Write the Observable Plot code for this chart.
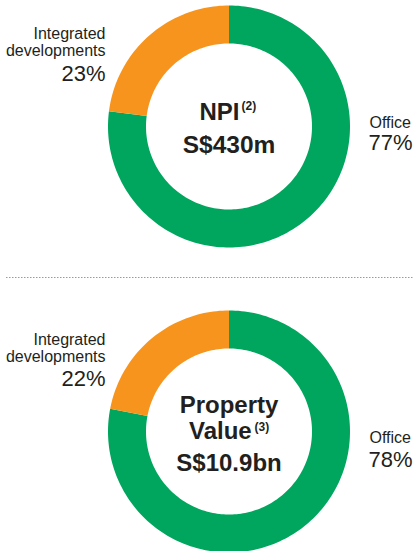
<!DOCTYPE html>
<html>
<head>
<meta charset="utf-8">
<script src="https://cdn.jsdelivr.net/npm/d3@7"></script>
<script src="https://cdn.jsdelivr.net/npm/@observablehq/plot@0.6"></script>
<style>
  html, body { margin: 0; padding: 0; background: #fff; }
  #chart svg { display: block; }
</style>
</head>
<body>
<div id="chart"></div>
<script>
// ---- data ----
const categories = ["Office", "Integrated developments"];
const categoryLines = [["Office"], ["Integrated", "developments"]];
const npiShares = [77, 23];
const valueShares = [78, 22];
const npiTitle = ["NPI", "(2)", "S$430m"];
const valueTitle = ["Property", "Value", "(3)", "S$10.9bn"];
const colors = ["#00a65d", "#f7941d"];

// ---- layout ----
const W = 415, H = 551;
const cx = 228.5, R = 121, r = 83;
const charts = [
  { id: "npi", shares: npiShares, cy: 126 },
  { id: "pv", shares: valueShares, cy: 431 }
];

// build ring polygons from shares
const ringPts = [];
charts.forEach(ch => {
  const arcs = d3.pie().sort(null).value(d => d)(ch.shares);
  arcs.forEach((a, i) => {
    const key = ch.id + "-" + i;
    const n = Math.max(8, Math.ceil((a.endAngle - a.startAngle) / (Math.PI * 2) * 240));
    const pts = [];
    for (let k = 0; k <= n; k++) {
      const t = a.startAngle + (a.endAngle - a.startAngle) * k / n;
      pts.push([cx + R * Math.sin(t), ch.cy - R * Math.cos(t)]);
    }
    for (let k = n; k >= 0; k--) {
      const t = a.startAngle + (a.endAngle - a.startAngle) * k / n;
      pts.push([cx + r * Math.sin(t), ch.cy - r * Math.cos(t)]);
    }
    pts.push(pts[0]);
    pts.forEach(p => ringPts.push({ key, cat: categories[i], x: p[0], y: p[1] }));
  });
});

// labels
const labelRows = [];
const pushSide = (ch, yOff) => {
  labelRows.push({ x: 105, y: ch.cy + yOff[0], text: categoryLines[1][0], size: 16, anchor: "end" });
  labelRows.push({ x: 105, y: ch.cy + yOff[1], text: categoryLines[1][1], size: 16, anchor: "end" });
  labelRows.push({ x: 105, y: ch.cy + yOff[2], text: ch.shares[1] + "%", size: 22, anchor: "end" });
  labelRows.push({ x: 369, y: ch.cy + yOff[3], text: categoryLines[0][0], size: 16, anchor: "start" });
  labelRows.push({ x: 368, y: ch.cy + yOff[4], text: ch.shares[0] + "%", size: 22, anchor: "start" });
};
pushSide(charts[0], [-88, -71, -46, 1, 23]);
pushSide(charts[1], [-87, -69.5, -46, 11.5, 35]);

const titleRows = [
  { x: 199, y: 119, text: npiTitle[0], size: 24, anchor: "start" },
  { x: 241, y: 109, text: npiTitle[1], size: 12, anchor: "start" },
  { x: 228.5, y: 152, text: npiTitle[2], size: 24.5, anchor: "middle" },
  { x: 228.5, y: 412, text: valueTitle[0], size: 24, anchor: "middle" },
  { x: 188.5, y: 438, text: valueTitle[1], size: 24, anchor: "start" },
  { x: 254, y: 430, text: valueTitle[2], size: 12, anchor: "start" },
  { x: 228.5, y: 470, text: valueTitle[3], size: 24, anchor: "middle" }
];

const textMarks = (rows, weight) => ["start", "middle", "end"].flatMap(anchor =>
  [...new Set(rows.map(d => d.size))].map(size =>
    Plot.text(rows.filter(d => d.anchor === anchor && d.size === size), {
      x: "x", y: "y", text: "text",
      textAnchor: anchor, lineAnchor: "bottom",
      fontSize: size, fontWeight: weight,
      fill: "#231f20"
    })
  )
);

const chart = Plot.plot({
  width: W, height: H,
  margin: 0,
  x: { domain: [0, W], range: [0, W], axis: null },
  y: { domain: [0, H], range: [0, H], axis: null },
  color: { domain: categories, range: colors },
  style: { background: "#fff", fontFamily: "'Liberation Sans', Arial, Helvetica, sans-serif", overflow: "hidden" },
  marks: [
    Plot.line(ringPts, { x: "x", y: "y", z: "key", fill: "cat", stroke: "none", curve: "linear" }),
    Plot.ruleY([277], { x1: 6, x2: 413, stroke: "#9a9a9a", strokeWidth: 1, strokeDasharray: "1.5,1.5" }),
    ...textMarks(labelRows, "normal"),
    ...textMarks(titleRows, "bold")
  ]
});
document.getElementById("chart").appendChild(chart);
</script>
</body>
</html>
